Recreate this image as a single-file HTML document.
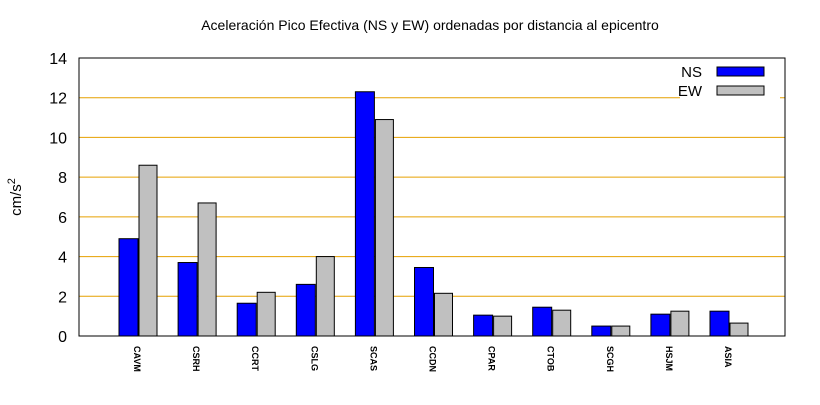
<!DOCTYPE html>
<html><head><meta charset="utf-8"><style>
body{margin:0;background:#fff;}
svg text{font-family:"Liberation Sans",sans-serif;}
</style></head><body>
<svg id="chart" width="820" height="400" viewBox="0 0 820 400">
<rect width="820" height="400" fill="#fff"/>
<text x="430" y="30" text-anchor="middle" font-size="14">Aceleración Pico Efectiva (NS y EW) ordenadas por distancia al epicentro</text>
<text transform="translate(21,197) rotate(-90)" text-anchor="middle" font-size="15">cm/s<tspan dy="-6" font-size="11">2</tspan></text>
<g id="grid"></g>
<g id="bars"></g>
<g id="axes"></g>
<g id="legend">
<rect x="680" y="60" width="100" height="40" fill="#fff"/>
<text x="702" y="77" text-anchor="end" font-size="15">NS</text>
<rect x="717" y="67" width="47" height="9" fill="#0000ff" stroke="#000" stroke-width="1"/>
<text x="702" y="96" text-anchor="end" font-size="15">EW</text>
<rect x="717" y="86" width="47" height="9" fill="#c0c0c0" stroke="#000" stroke-width="1"/>
</g>
</svg>
<script>
const categories=["CAVM","CSRH","CCRT","CSLG","SCAS","CCDN","CPAR","CTOB","SCGH","HSJM","ASIA"];
const nsValues=[4.9,3.7,1.65,2.6,12.3,3.45,1.05,1.45,0.5,1.1,1.25];
const ewValues=[8.6,6.7,2.2,4.0,10.9,2.15,1.0,1.3,0.5,1.25,0.65];
const yTicks=[0,2,4,6,8,10,12,14];
const NS="http://www.w3.org/2000/svg";
const L=79,R=785,T=58,B=336,YMAX=14;
const y=v=>B-(v/YMAX)*(B-T);
const x=i=>138+i*59.1;
function mk(tag,attrs,parent){const e=document.createElementNS(NS,tag);for(const k in attrs)e.setAttribute(k,attrs[k]);parent.appendChild(e);return e;}
const grid=document.getElementById('grid'),bars=document.getElementById('bars'),axes=document.getElementById('axes');
yTicks.forEach(t=>{
  if(t>0&&t<YMAX){const g=mk('line',{x1:L,x2:R,y1:y(t),y2:y(t),stroke:'#e6a000','stroke-width':1},grid);
  
  }
  const lb=mk('text',{x:L-12,y:y(t)+6,'text-anchor':'end','font-size':16},axes);
  lb.textContent=t;
  
  
});
categories.forEach((c,i)=>{
  const cx=x(i);
  const b1=mk('rect',{x:cx-19,y:y(nsValues[i]),width:19,height:B-y(nsValues[i]),fill:'#0000ff',stroke:'#000','stroke-width':1},bars);
  
  
  const b2=mk('rect',{x:cx+1,y:y(ewValues[i]),width:18,height:B-y(ewValues[i]),fill:'#c0c0c0',stroke:'#000','stroke-width':1},bars);
  
  
  const t=mk('text',{transform:`translate(${cx-4},346) rotate(90)`,'font-size':9,'font-weight':'bold'},axes);
  t.textContent=c;
  
  
});
const frame=mk('rect',{x:L,y:T,width:R-L,height:B-T,fill:'none',stroke:'#000','stroke-width':1},axes);


</script>
</body></html>
